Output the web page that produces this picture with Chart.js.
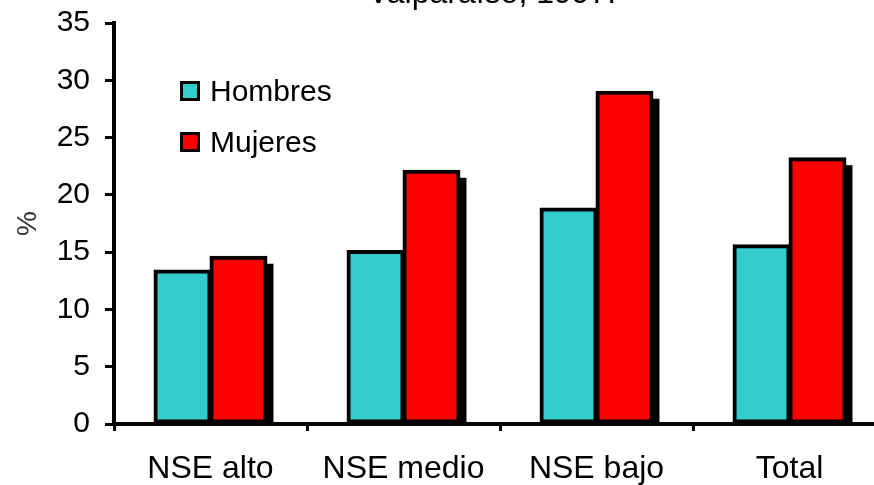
<!DOCTYPE html>
<html>
<head>
<meta charset="utf-8">
<script src="https://cdn.jsdelivr.net/npm/chart.js@4.4.0/dist/chart.umd.min.js"></script>
<style>
  body { margin: 0; overflow: hidden; background: #fff; }
  #wrap { position: relative; width: 900px; height: 485px; }
  #leyenda { position: absolute; left: 180px; top: 65px; font: 30px "Liberation Sans", Arial, sans-serif; color: #000; }
  #leyenda div { height: 51px; display: flex; align-items: center; }
  #leyenda span.caja { display: inline-block; width: 14px; height: 14px; border: 3px solid #000; margin-right: 10px; }
</style>
</head>
<body>
<div id="wrap">
  <canvas id="graficoNSE" width="900" height="485"></canvas>
  <div id="leyenda"></div>
</div>
<script>
// Datos
const categorias = ['NSE alto', 'NSE medio', 'NSE bajo', 'Total'];
const hombres = [13.4, 15.1, 18.8, 15.6];
const mujeres = [14.6, 22.1, 29.0, 23.2];
const series = ['Hombres', 'Mujeres'];
const colores = ['#33CCCC', '#FF0000'];
const titulo = 'Valparaíso, 1997.';

const fuente = '"Liberation Sans", Arial, sans-serif';

// sombra negra detras de cada barra
const sombraBarras = {
    id: 'sombraBarras',
    beforeDatasetsDraw(chart) {
        const ctx = chart.ctx;
        const base = chart.scales.y.getPixelForValue(0);
        ctx.save();
        ctx.fillStyle = '#000';
        chart.data.datasets.forEach((ds, i) => {
            chart.getDatasetMeta(i).data.forEach(bar => {
                const w = bar.width;
                ctx.fillRect(bar.x - w / 2 + 7, bar.y + 7, w, base - bar.y - 7);
            });
        });
        ctx.restore();
    }
};

// titulo cortado arriba (solo se ve la parte de abajo)
const tituloCortado = {
    id: 'tituloCortado',
    afterDraw(chart) {
        const ctx = chart.ctx;
        ctx.save();
        ctx.font = '32px ' + fuente;
        ctx.fillStyle = '#000';
        ctx.textAlign = 'center';
        ctx.textBaseline = 'alphabetic';
        ctx.fillText(titulo, 492, 3);
        ctx.restore();
    }
};

const ctx = document.getElementById('graficoNSE').getContext('2d');
new Chart(ctx, {
    type: 'bar',
    data: {
        labels: categorias,
        datasets: [
            { label: series[0], data: hombres, backgroundColor: colores[0], borderColor: '#000', borderWidth: 4, borderSkipped: false, inflateAmount: 1 },
            { label: series[1], data: mujeres, backgroundColor: colores[1], borderColor: '#000', borderWidth: 4, borderSkipped: false, inflateAmount: 1 }
        ]
    },
    options: {
        responsive: false,
        animation: false,
        layout: { padding: { top: 23, right: 14, left: 0, bottom: 0 } },
        datasets: { bar: { categoryPercentage: 0.58, barPercentage: 1 } },
        plugins: { legend: { display: false }, tooltip: { enabled: false } },
        scales: {
            x: {
                afterFit: s => { s.height = 61; s.paddingLeft = 0; s.paddingRight = 0; },
                grid: { offset: true, drawOnChartArea: false, tickLength: 7, color: '#000', lineWidth: 3 },
                border: { color: '#000', width: 4 },
                ticks: { color: '#000', font: { size: 32, family: fuente }, padding: 19 }
            },
            y: {
                min: 0,
                max: 35,
                afterFit: s => { s.width = 114; s.paddingTop = 0; s.paddingBottom = 0; },
                grid: { drawOnChartArea: false, tickLength: 9, color: '#000', lineWidth: 3 },
                border: { color: '#000', width: 4 },
                ticks: { stepSize: 5, color: '#000', font: { size: 30, family: fuente }, padding: 15 },
                title: { display: true, text: '%', color: '#333', font: { size: 28, family: fuente }, padding: { top: 11 } }
            }
        }
    },
    plugins: [sombraBarras, tituloCortado]
});

// leyenda dentro del area del grafico
const leyenda = document.getElementById('leyenda');
series.forEach((s, i) => {
    const fila = document.createElement('div');
    fila.innerHTML = '<span class="caja" style="background:' + colores[i] + '"></span>' + s;
    leyenda.appendChild(fila);
});
</script>
</body>
</html>
